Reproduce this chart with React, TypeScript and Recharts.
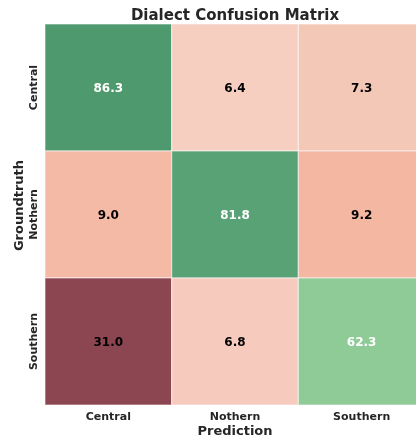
import { ScatterChart, Scatter, XAxis, YAxis, ReferenceLine } from "recharts";

const classes = ["Central", "Nothern", "Southern"];
const rowCentral = [86.3, 6.4, 7.3];
const rowNothern = [9.0, 81.8, 9.2];
const rowSouthern = [31.0, 6.8, 62.3];
const rowColors = [
  ["#4e996e", "#f6cfc1", "#f4c8b7"],
  ["#f5baa6", "#58a276", "#f4b7a2"],
  ["#8c4651", "#f6cbbd", "#8ecb96"],
];
const lightText = [
  [true, false, false],
  [false, true, false],
  [false, false, true],
];

const rows = [rowCentral, rowNothern, rowSouthern];
const cells = rows.flatMap((row, r) =>
  row.map((v, c) => ({ x: c, y: r, value: v, fill: rowColors[r][c], light: lightText[r][c] }))
);

const W = 425;
const H = 441;
const M = { top: 24, right: 0, bottom: 0, left: 0 };
const Y_W = 45;
const X_H = 36;
const cellW = (W - M.left - M.right - Y_W) / 3;
const cellH = (H - M.top - M.bottom - X_H) / 3;

const font = "'DejaVu Sans', sans-serif";

const Cell = (props: any) => {
  const { cx, cy, payload } = props;
  return (
    <g>
      <rect
        x={cx - cellW / 2}
        y={cy - cellH / 2}
        width={cellW}
        height={cellH}
        fill={payload.fill}
        stroke="#ffffff"
        strokeOpacity={0.5}
        strokeWidth={1.2}
      />
      <text
        x={cx}
        y={cy}
        textAnchor="middle"
        dominantBaseline="central"
        fontFamily={font}
        fontWeight="bold"
        fontSize={12}
        fill={payload.light ? "#ffffff" : "#000000"}
      >
        {payload.value.toFixed(1)}
      </text>
    </g>
  );
};

const YTick = (props: any) => {
  const { x, y, payload } = props;
  return (
    <text
      transform={`translate(${x},${y}) rotate(-90)`}
      textAnchor="middle"
      fontFamily={font}
      fontWeight="bold"
      fontSize={11}
      fill="#262626"
    >
      {classes[payload.value]}
    </text>
  );
};

const YLabel = (props: any) => {
  const vb = props.viewBox || {};
  const cy = (vb.y ?? 24) + (vb.height ?? 381) / 2 - 9;
  return (
    <text
      transform={`translate(18,${cy}) rotate(-90)`}
      textAnchor="middle"
      dominantBaseline="central"
      fontFamily={font}
      fontWeight="bold"
      fontSize={13}
      fill="#262626"
    >
      Groundtruth
    </text>
  );
};

export default function App() {
  return (
    <div style={{ position: "fixed", left: 0, top: 0, width: 416, height: 441, overflow: "hidden" }}>
      <div
        style={{
          position: "absolute",
          left: Y_W,
          width: W - Y_W,
          top: 6,
          textAlign: "center",
          fontFamily: font,
          fontWeight: "bold",
          fontSize: 15,
          color: "#262626",
          zIndex: 1,
        }}
      >
        Dialect Confusion Matrix
      </div>
      <ScatterChart width={W} height={H} margin={M}>
        <XAxis
          type="number"
          dataKey="x"
          height={X_H}
          domain={[-0.5, 2.5]}
          ticks={[0, 1, 2]}
          tickFormatter={(v) => classes[v]}
          axisLine={false}
          tickLine={false}
          tick={{ fontFamily: font, fontWeight: "bold", fontSize: 11, fill: "#262626" }}
          tickMargin={1}
          label={{
            value: "Prediction",
            position: "insideBottom",
            offset: 6,
            style: { fontFamily: font, fontWeight: "bold", fontSize: 13, fill: "#262626" },
          }}
        />
        <YAxis
          type="number"
          dataKey="y"
          width={Y_W}
          reversed
          domain={[-0.5, 2.5]}
          ticks={[0, 1, 2]}
          axisLine={false}
          tickLine={false}
          tick={<YTick />}
          label={<YLabel />}
        />
        <Scatter data={cells} shape={<Cell />} isAnimationActive={false} />
        {[0, 1, 2].map((t) => (
          <ReferenceLine key={`vx${t}`} x={t} stroke="#ffffff" strokeOpacity={0.12} />
        ))}
        {[0, 1, 2].map((t) => (
          <ReferenceLine key={`hy${t}`} y={t} stroke="#ffffff" strokeOpacity={0.12} />
        ))}
      </ScatterChart>
    </div>
  );
}
